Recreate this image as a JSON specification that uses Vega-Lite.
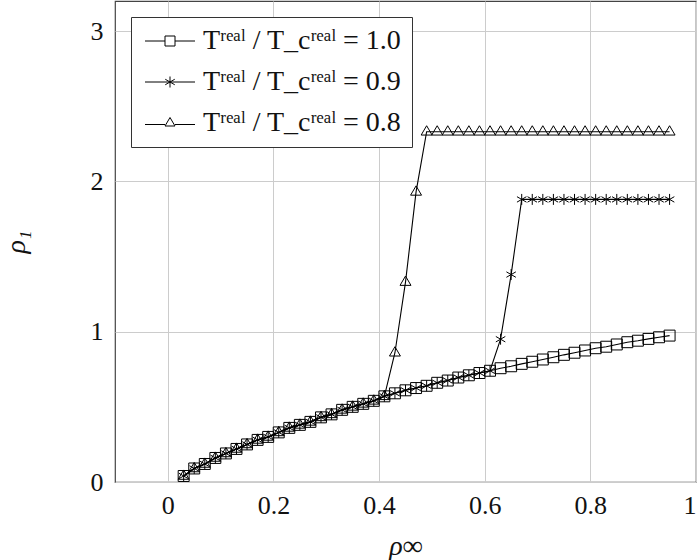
{
  "$schema": "https://vega.github.io/schema/vega-lite/v6.json",
  "autosize": "none",
  "width": 581,
  "height": 481,
  "padding": {"left": 115, "top": 1, "right": 4, "bottom": 78},
  "background": "white",
  "config": {
    "font": "Liberation Serif",
    "view": {"stroke": "#444", "strokeWidth": 1.2},
    "axis": {
      "labelFont": "Liberation Serif",
      "titleFont": "Liberation Serif",
      "labelFontSize": 26,
      "titleFontSize": 28,
      "titleFontStyle": "italic",
      "labelColor": "#111",
      "titleColor": "#111",
      "titleFontWeight": "normal",
      "gridColor": "#cccccc",
      "gridWidth": 1,
      "domain": false,
      "ticks": false
    }
  },
  "data": {"values": [
    {"x":0.03,"y":0.04,"s":"A"},{"x":0.05,"y":0.09,"s":"A"},{"x":0.07,"y":0.12,"s":"A"},{"x":0.09,"y":0.16,"s":"A"},{"x":0.11,"y":0.19,"s":"A"},{"x":0.13,"y":0.22,"s":"A"},{"x":0.15,"y":0.25,"s":"A"},{"x":0.17,"y":0.28,"s":"A"},{"x":0.19,"y":0.30,"s":"A"},{"x":0.21,"y":0.33,"s":"A"},{"x":0.23,"y":0.36,"s":"A"},{"x":0.25,"y":0.38,"s":"A"},{"x":0.27,"y":0.40,"s":"A"},{"x":0.29,"y":0.43,"s":"A"},{"x":0.31,"y":0.45,"s":"A"},{"x":0.33,"y":0.48,"s":"A"},{"x":0.35,"y":0.50,"s":"A"},{"x":0.37,"y":0.52,"s":"A"},{"x":0.39,"y":0.54,"s":"A"},{"x":0.41,"y":0.57,"s":"A"},{"x":0.43,"y":0.59,"s":"A"},{"x":0.45,"y":0.61,"s":"A"},{"x":0.47,"y":0.625,"s":"A"},{"x":0.49,"y":0.64,"s":"A"},{"x":0.51,"y":0.66,"s":"A"},{"x":0.53,"y":0.675,"s":"A"},{"x":0.55,"y":0.695,"s":"A"},{"x":0.57,"y":0.71,"s":"A"},{"x":0.59,"y":0.725,"s":"A"},{"x":0.61,"y":0.74,"s":"A"},{"x":0.63,"y":0.757,"s":"A"},{"x":0.65,"y":0.77,"s":"A"},{"x":0.67,"y":0.786,"s":"A"},{"x":0.69,"y":0.80,"s":"A"},{"x":0.71,"y":0.815,"s":"A"},{"x":0.73,"y":0.83,"s":"A"},{"x":0.75,"y":0.846,"s":"A"},{"x":0.77,"y":0.86,"s":"A"},{"x":0.79,"y":0.875,"s":"A"},{"x":0.81,"y":0.89,"s":"A"},{"x":0.83,"y":0.90,"s":"A"},{"x":0.85,"y":0.915,"s":"A"},{"x":0.87,"y":0.93,"s":"A"},{"x":0.89,"y":0.94,"s":"A"},{"x":0.91,"y":0.952,"s":"A"},{"x":0.93,"y":0.963,"s":"A"},{"x":0.95,"y":0.974,"s":"A"},

    {"x":0.03,"y":0.04,"s":"B"},{"x":0.05,"y":0.09,"s":"B"},{"x":0.07,"y":0.12,"s":"B"},{"x":0.09,"y":0.16,"s":"B"},{"x":0.11,"y":0.19,"s":"B"},{"x":0.13,"y":0.22,"s":"B"},{"x":0.15,"y":0.25,"s":"B"},{"x":0.17,"y":0.28,"s":"B"},{"x":0.19,"y":0.30,"s":"B"},{"x":0.21,"y":0.33,"s":"B"},{"x":0.23,"y":0.36,"s":"B"},{"x":0.25,"y":0.38,"s":"B"},{"x":0.27,"y":0.40,"s":"B"},{"x":0.29,"y":0.43,"s":"B"},{"x":0.31,"y":0.45,"s":"B"},{"x":0.33,"y":0.48,"s":"B"},{"x":0.35,"y":0.50,"s":"B"},{"x":0.37,"y":0.52,"s":"B"},{"x":0.39,"y":0.54,"s":"B"},{"x":0.41,"y":0.57,"s":"B"},{"x":0.43,"y":0.59,"s":"B"},{"x":0.45,"y":0.61,"s":"B"},{"x":0.47,"y":0.625,"s":"B"},{"x":0.49,"y":0.64,"s":"B"},{"x":0.51,"y":0.66,"s":"B"},{"x":0.53,"y":0.675,"s":"B"},{"x":0.55,"y":0.695,"s":"B"},{"x":0.57,"y":0.71,"s":"B"},{"x":0.59,"y":0.725,"s":"B"},{"x":0.61,"y":0.74,"s":"B"},{"x":0.63,"y":0.95,"s":"B"},{"x":0.65,"y":1.38,"s":"B"},{"x":0.67,"y":1.88,"s":"B"},{"x":0.69,"y":1.88,"s":"B"},{"x":0.71,"y":1.88,"s":"B"},{"x":0.73,"y":1.88,"s":"B"},{"x":0.75,"y":1.88,"s":"B"},{"x":0.77,"y":1.88,"s":"B"},{"x":0.79,"y":1.88,"s":"B"},{"x":0.81,"y":1.88,"s":"B"},{"x":0.83,"y":1.88,"s":"B"},{"x":0.85,"y":1.88,"s":"B"},{"x":0.87,"y":1.88,"s":"B"},{"x":0.89,"y":1.88,"s":"B"},{"x":0.91,"y":1.88,"s":"B"},{"x":0.93,"y":1.88,"s":"B"},{"x":0.95,"y":1.88,"s":"B"},

    {"x":0.03,"y":0.04,"s":"C"},{"x":0.05,"y":0.09,"s":"C"},{"x":0.07,"y":0.12,"s":"C"},{"x":0.09,"y":0.16,"s":"C"},{"x":0.11,"y":0.19,"s":"C"},{"x":0.13,"y":0.22,"s":"C"},{"x":0.15,"y":0.25,"s":"C"},{"x":0.17,"y":0.28,"s":"C"},{"x":0.19,"y":0.30,"s":"C"},{"x":0.21,"y":0.33,"s":"C"},{"x":0.23,"y":0.36,"s":"C"},{"x":0.25,"y":0.38,"s":"C"},{"x":0.27,"y":0.40,"s":"C"},{"x":0.29,"y":0.43,"s":"C"},{"x":0.31,"y":0.45,"s":"C"},{"x":0.33,"y":0.48,"s":"C"},{"x":0.35,"y":0.50,"s":"C"},{"x":0.37,"y":0.52,"s":"C"},{"x":0.39,"y":0.54,"s":"C"},{"x":0.41,"y":0.57,"s":"C"},{"x":0.43,"y":0.86,"s":"C"},{"x":0.45,"y":1.33,"s":"C"},{"x":0.47,"y":1.93,"s":"C"},{"x":0.49,"y":2.33,"s":"C"},{"x":0.51,"y":2.33,"s":"C"},{"x":0.53,"y":2.33,"s":"C"},{"x":0.55,"y":2.33,"s":"C"},{"x":0.57,"y":2.33,"s":"C"},{"x":0.59,"y":2.33,"s":"C"},{"x":0.61,"y":2.33,"s":"C"},{"x":0.63,"y":2.33,"s":"C"},{"x":0.65,"y":2.33,"s":"C"},{"x":0.67,"y":2.33,"s":"C"},{"x":0.69,"y":2.33,"s":"C"},{"x":0.71,"y":2.33,"s":"C"},{"x":0.73,"y":2.33,"s":"C"},{"x":0.75,"y":2.33,"s":"C"},{"x":0.77,"y":2.33,"s":"C"},{"x":0.79,"y":2.33,"s":"C"},{"x":0.81,"y":2.33,"s":"C"},{"x":0.83,"y":2.33,"s":"C"},{"x":0.85,"y":2.33,"s":"C"},{"x":0.87,"y":2.33,"s":"C"},{"x":0.89,"y":2.33,"s":"C"},{"x":0.91,"y":2.33,"s":"C"},{"x":0.93,"y":2.33,"s":"C"},{"x":0.95,"y":2.33,"s":"C"}
  ]},
  "encoding": {
    "x": {"field": "x", "type": "quantitative",
      "scale": {"domain": [-0.1, 1.0], "nice": false, "zero": false},
      "axis": {"values": [0, 0.2, 0.4, 0.6, 0.8, 1], "title": "ρ∞", "labelPadding": 10, "titlePadding": 14, "format": "~g"}},
    "y": {"field": "y", "type": "quantitative",
      "scale": {"domain": [0, 3.2], "nice": false},
      "axis": {"values": [0, 1, 2, 3], "title": "ρ₁", "labelPadding": 12, "titlePadding": 60}}
  },
  "layer": [
    {
      "mark": {"type": "line", "strokeWidth": 1.1},
      "encoding": {
        "color": {"field": "s", "type": "nominal",
          "scale": {"domain": ["A", "B", "C"], "range": ["black", "black", "black"]},
          "legend": {
            "title": null,
            "orient": "top-left",
            "offset": 16,
            "symbolType": "M-5,0L5,0",
            "labelExpr": "datum.value == 'A' ? 'Tʳᵉᵃˡ / T_cʳᵉᵃˡ = 1.0' : datum.value == 'B' ? 'Tʳᵉᵃˡ / T_cʳᵉᵃˡ = 0.9' : 'Tʳᵉᵃˡ / T_cʳᵉᵃˡ = 0.8'",
            "labelFont": "Liberation Serif",
            "labelFontSize": 28,
            "labelColor": "#111",
            "labelLimit": 400,
            "labelOffset": 19,
            "symbolSize": 100,
            "symbolOffset": 15,
            "symbolStrokeColor": "black",
            "symbolFillColor": "transparent",
            "symbolStrokeWidth": 1,
            "rowPadding": 13,
            "padding": 10,
            "strokeColor": "#333",
            "fillColor": "white",
            "encode": {
              "symbols": {
                "update": {
                  "shape": [
                    {"test": "datum.value == 'A'", "value": "M-5,0L-1,0M1,0L5,0M-1,-1L1,-1L1,1L-1,1Z"},
                    {"test": "datum.value == 'B'", "value": "M-5,0L5,0M0,-1.1L0,1.1M-0.95,-0.55L0.95,0.55M-0.95,0.55L0.95,-0.55"},
                    {"value": "M-5,0.3L-1,0.3M1,0.3L5,0.3M0,-1.1L1,0.6L-1,0.6Z"}
                  ],
                  "fill": {"value": "transparent"},
                  "stroke": {"value": "black"}
                }
              }
            }
          }
        }
      }
    },
    {
      "mark": {"type": "point", "filled": false, "stroke": "black", "strokeWidth": 1, "size": 120, "opacity": 1},
      "encoding": {
        "shape": {"field": "s", "type": "nominal",
          "scale": {"domain": ["C", "B", "A"], "range": ["M0,-1.1L1,0.6L-1,0.6Z", "M0,-1L0,1M-0.866,-0.5L0.866,0.5M-0.866,0.5L0.866,-0.5", "square"]},
          "legend": null
        }
      }
    }
  ]
}
